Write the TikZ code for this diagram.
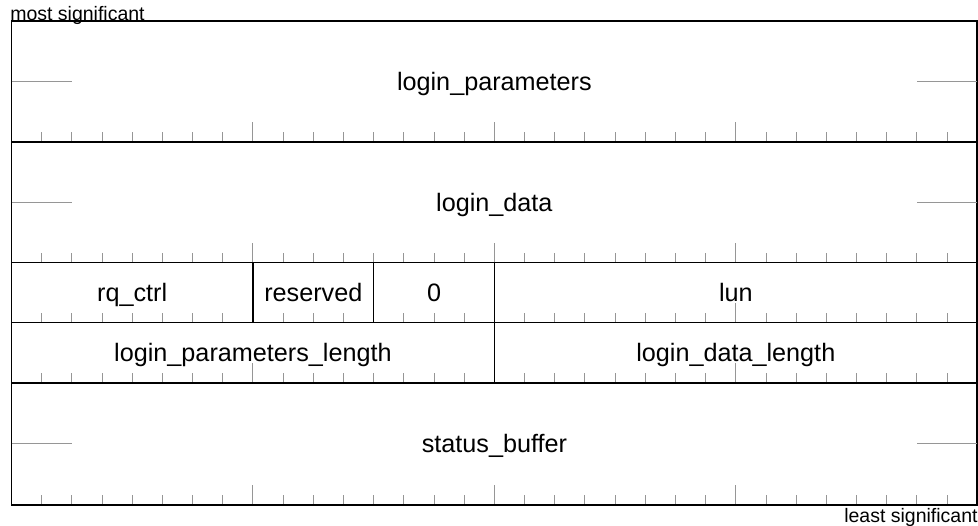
\documentclass[tikz,border=0pt]{standalone}
\usepackage{fontspec}
\setmainfont{Liberation Sans}
\definecolor{tickgray}{RGB}{150,150,150}
\begin{document}
\begin{tikzpicture}[x=1pt,y=-1pt,
  field/.style={draw=black, line width=1.6pt, rectangle, inner sep=0pt, outer sep=0pt,
    text height=18pt, text depth=0pt, font=\fontsize{25.2}{30}\selectfont, anchor=center},
  tickln/.style={draw=tickgray, line width=1pt},
  sig/.style={inner sep=0pt, outer sep=0pt, font=\fontsize{19.5}{22}\selectfont}]
\useasboundingbox (0,0) rectangle (978,526);
\def\L{11.5}
\def\bw{30.18}
% ticks at the bottom of each row
\foreach \yb in {142.3,262.7,322.7,383,505}{
  \foreach \k in {1,...,31}{
    \pgfmathsetmacro\len{ifthenelse(mod(\k,8)==0,20,10)}
    \draw[tickln] ({\L+\k*\bw},\yb) -- ++(0,-\len);
  }
}
% fields: name, first bit, last bit, top, bottom, text
\newcommand\bitfield[6]{%
  \node[field, minimum width={(#3-#2)*\bw*1pt}, minimum height={(#5-#4)*1pt}]
    (#1) at ({\L+(#2+#3)/2*\bw},{(#4+#5)/2}) {#6};}
\bitfield{lp}{0}{32}{21.3}{142.3}{login\_parameters}
\bitfield{ld}{0}{32}{142.3}{262.7}{login\_data}
\bitfield{rq}{0}{8}{262.7}{322.7}{rq\_ctrl}
\bitfield{rs}{8}{12}{262.7}{322.7}{reserved}
\bitfield{zero}{12}{16}{262.7}{322.7}{0}
\bitfield{lun}{16}{32}{262.7}{322.7}{lun}
\bitfield{lpl}{0}{16}{322.7}{383}{login\_parameters\_length}
\bitfield{ldl}{16}{32}{322.7}{383}{login\_data\_length}
\bitfield{sb}{0}{32}{383}{505}{status\_buffer}
% continuation stubs
\foreach \n in {lp,ld,sb}{
  \draw[tickln] (\n.west) -- ++({2*\bw},0);
  \draw[tickln] (\n.east) -- ++({-2*\bw},0);
}
\node[sig, anchor=base west] (msb) at (10.3,20.7) {most significant};
\node[sig, anchor=base east] (lsb) at (977.6,522) {least significant};
\end{tikzpicture}
\end{document}
